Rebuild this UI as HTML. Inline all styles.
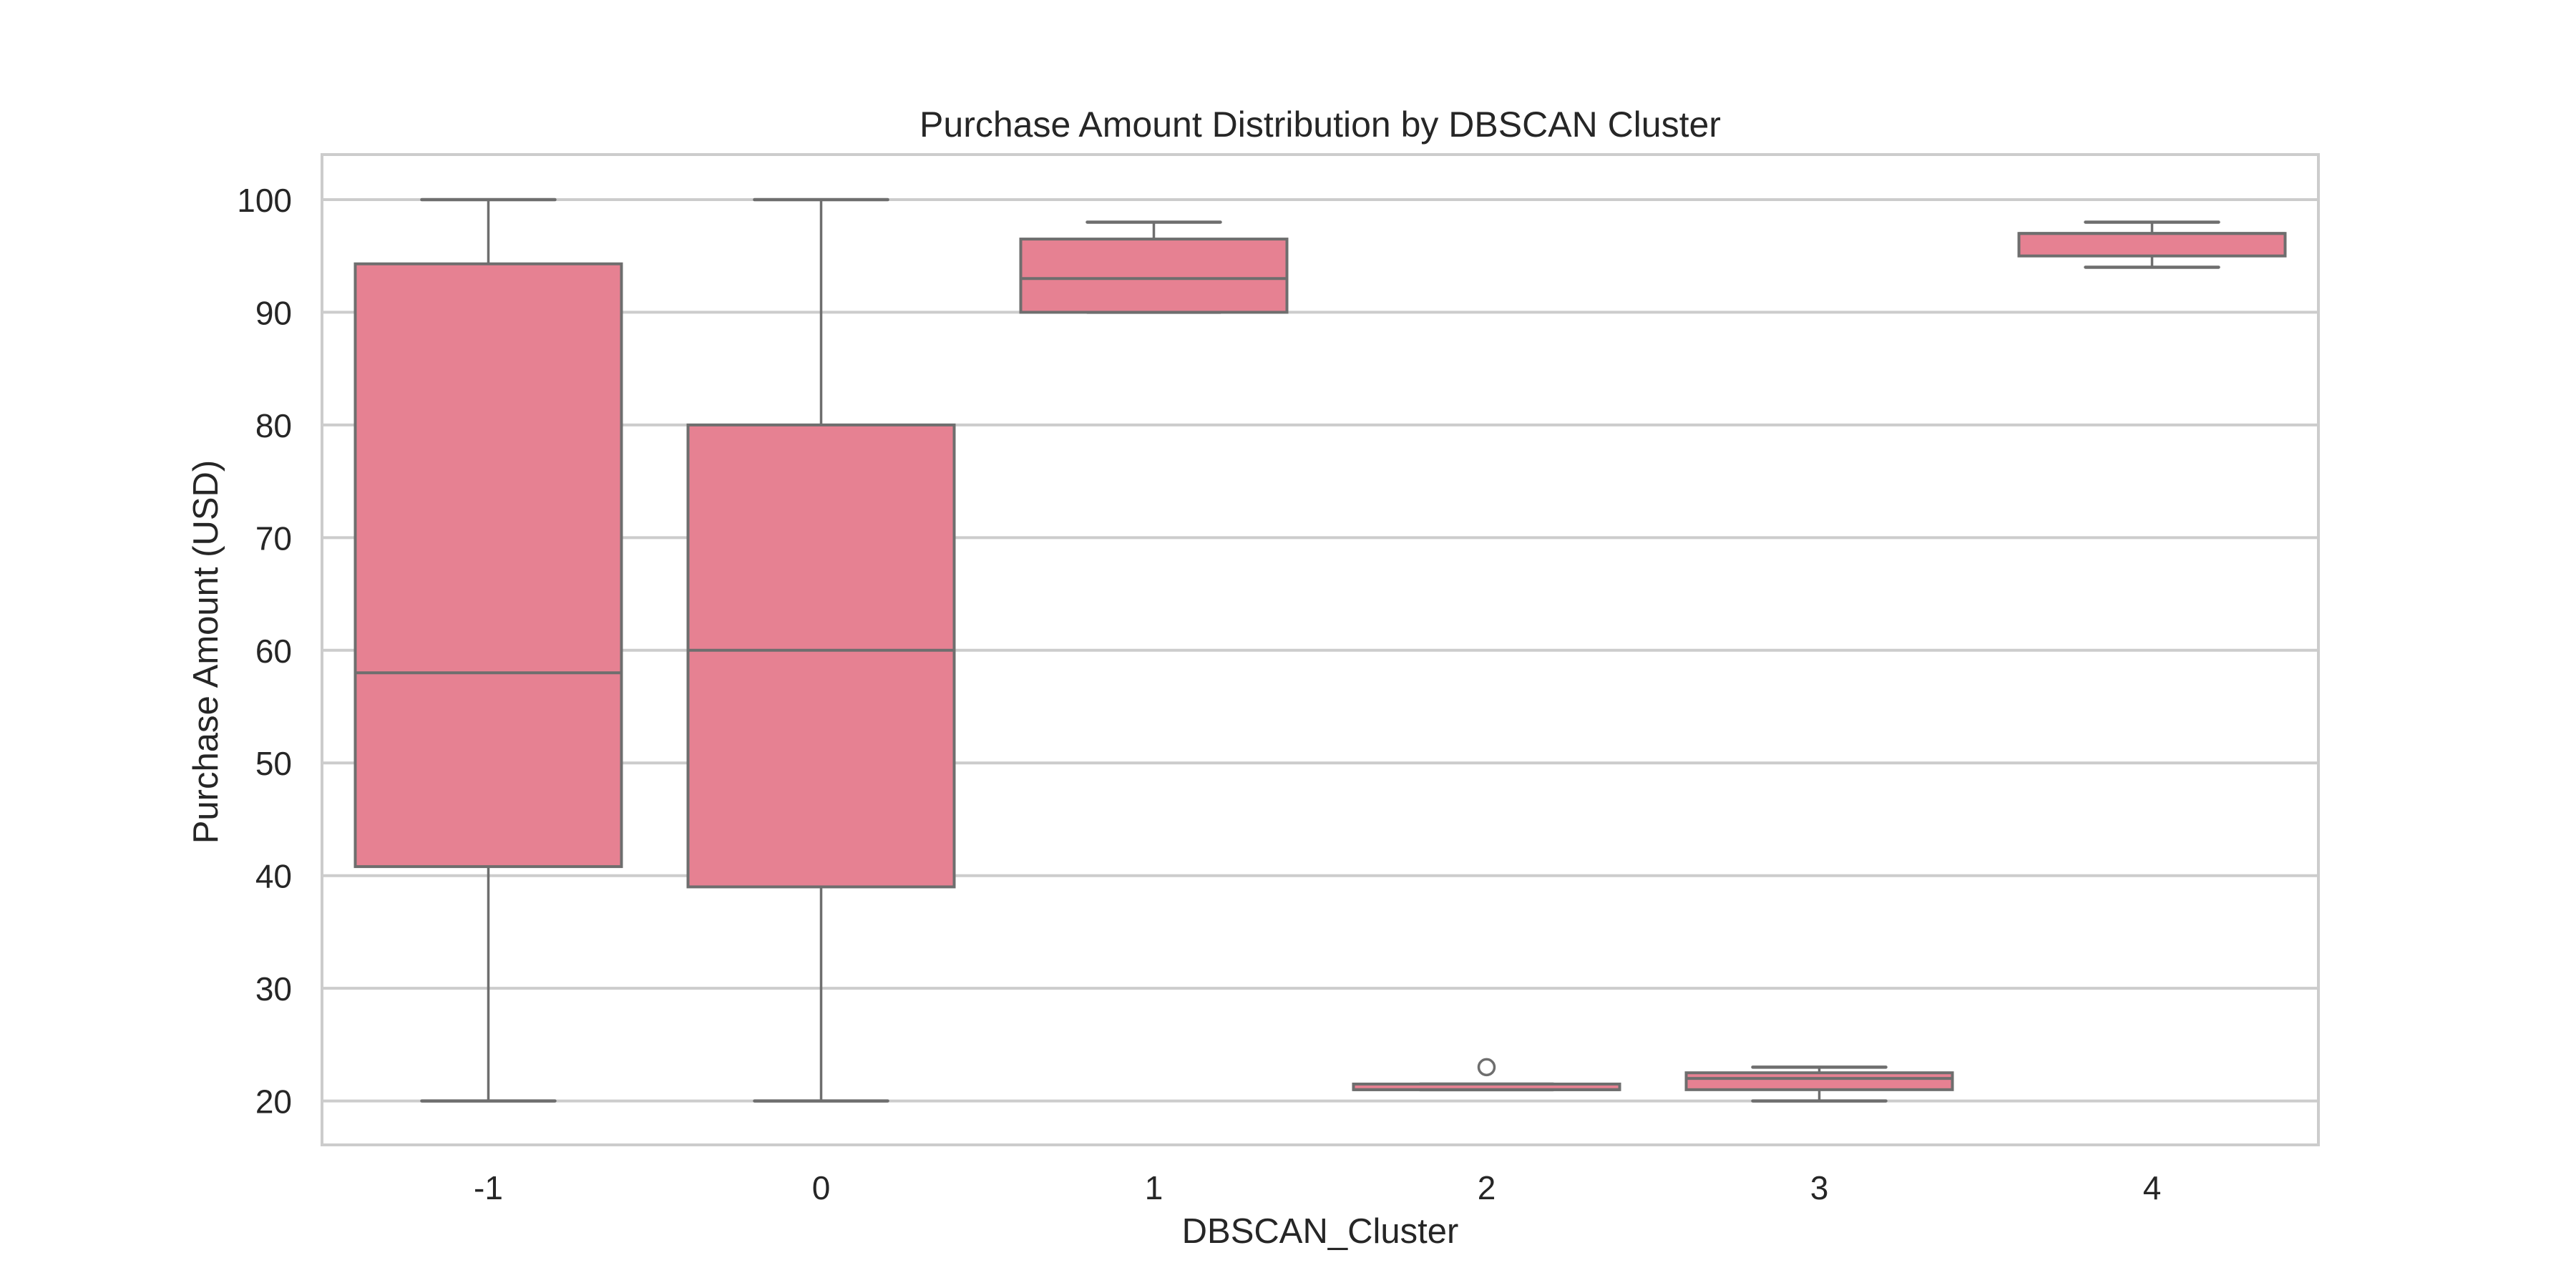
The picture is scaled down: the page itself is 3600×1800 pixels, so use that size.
<!DOCTYPE html>
<html><head><meta charset="utf-8"><style>
html,body{margin:0;padding:0;background:#fff;}
svg{display:block;font-family:"Liberation Sans",Arial,sans-serif;}
</style></head><body>
<svg id="chart" width="3600" height="1800" viewBox="0 0 3600 1800" xmlns="http://www.w3.org/2000/svg">
<rect width="3600" height="1800" fill="#fff"/>
<g id="grid"></g>
<g id="boxes"></g>
<rect x="450" y="216" width="2790" height="1384" fill="none" stroke="#cccccc" stroke-width="4"/>
<g id="yticks"></g>
<g id="xticks"></g>
<text x="1845" y="191" font-size="50" text-anchor="middle" fill="#262626">Purchase Amount Distribution by DBSCAN Cluster</text>
<text x="1845" y="1737" font-size="49" text-anchor="middle" fill="#262626">DBSCAN_Cluster</text>
<text transform="translate(304,911) rotate(-90)" font-size="49" text-anchor="middle" fill="#262626">Purchase Amount (USD)</text>
</svg>
<script>
const categories = ["-1","0","1","2","3","4"];
const whiskerLow = [20, 20, 90, 21, 20, 94];
const q1Values = [40.8, 39, 90, 21, 21, 95];
const medians = [58, 60, 93, 21, 22, 97];
const q3Values = [94.3, 80, 96.5, 21.5, 22.5, 97];
const whiskerHigh = [100, 100, 98, 21.5, 23, 98];
const outliers = [[], [], [], [23], [], []];
const yTicks = [20, 30, 40, 50, 60, 70, 80, 90, 100];

const NS = "http://www.w3.org/2000/svg";
const PL = 450, PR = 3240, PT = 216, PB = 1600;
const yMin = 16.1, yMax = 104;
const xScale = i => PL + (i + 0.5) / categories.length * (PR - PL);
const yScale = v => PB - (v - yMin) / (yMax - yMin) * (PB - PT);
const step = (PR - PL) / categories.length;
function mk(tag, attrs, parent) {
  const e = document.createElementNS(NS, tag);
  for (const k in attrs) e.setAttribute(k, attrs[k]);
  parent.appendChild(e);
  return e;
}
const grid = document.getElementById('grid');
const yt = document.getElementById('yticks');
yTicks.forEach(t => {
  const y = yScale(t);
  const l = mk('line', {x1: PL, x2: PR, y1: y, y2: y, stroke: '#cccccc', 'stroke-width': 4}, grid);
  
  
  const tx = mk('text', {x: 408, y: y + 17, 'font-size': 46, 'text-anchor': 'end', fill: '#262626'}, yt);
  tx.textContent = t;
  
  
});
const xt = document.getElementById('xticks');
const bx = document.getElementById('boxes');
const edge = '#6e6e6e';
categories.forEach((c, i) => {
  const cx = xScale(i);
  const tx = mk('text', {x: cx, y: 1676, 'font-size': 46, 'text-anchor': 'middle', fill: '#262626'}, xt);
  tx.textContent = c;
  
  
  const g = mk('g', {}, bx);
  
  
  const bw = step * 0.8, cw = step * 0.4;
  mk('line', {x1: cx, x2: cx, y1: yScale(whiskerHigh[i]), y2: yScale(q3Values[i]), stroke: edge, 'stroke-width': 3.5}, g);
  mk('line', {x1: cx, x2: cx, y1: yScale(q1Values[i]), y2: yScale(whiskerLow[i]), stroke: edge, 'stroke-width': 3.5}, g);
  mk('line', {x1: cx - cw/2, x2: cx + cw/2, y1: yScale(whiskerHigh[i]), y2: yScale(whiskerHigh[i]), stroke: edge, 'stroke-width': 4.5, 'stroke-linecap': 'round'}, g);
  mk('line', {x1: cx - cw/2, x2: cx + cw/2, y1: yScale(whiskerLow[i]), y2: yScale(whiskerLow[i]), stroke: edge, 'stroke-width': 4.5, 'stroke-linecap': 'round'}, g);
  const yTop = yScale(q3Values[i]), yBot = yScale(q1Values[i]);
  mk('rect', {x: cx - bw/2, y: yTop, width: bw, height: Math.max(yBot - yTop, 0.5), fill: '#e68192', stroke: edge, 'stroke-width': 4}, g);
  mk('line', {x1: cx - bw/2, x2: cx + bw/2, y1: yScale(medians[i]), y2: yScale(medians[i]), stroke: edge, 'stroke-width': 4}, g);
  outliers[i].forEach(v => {
    const o = mk('circle', {cx: cx, cy: yScale(v), r: 11, fill: 'none', stroke: edge, 'stroke-width': 3.5}, g);
    
    
  });
});
</script>
</body></html>
